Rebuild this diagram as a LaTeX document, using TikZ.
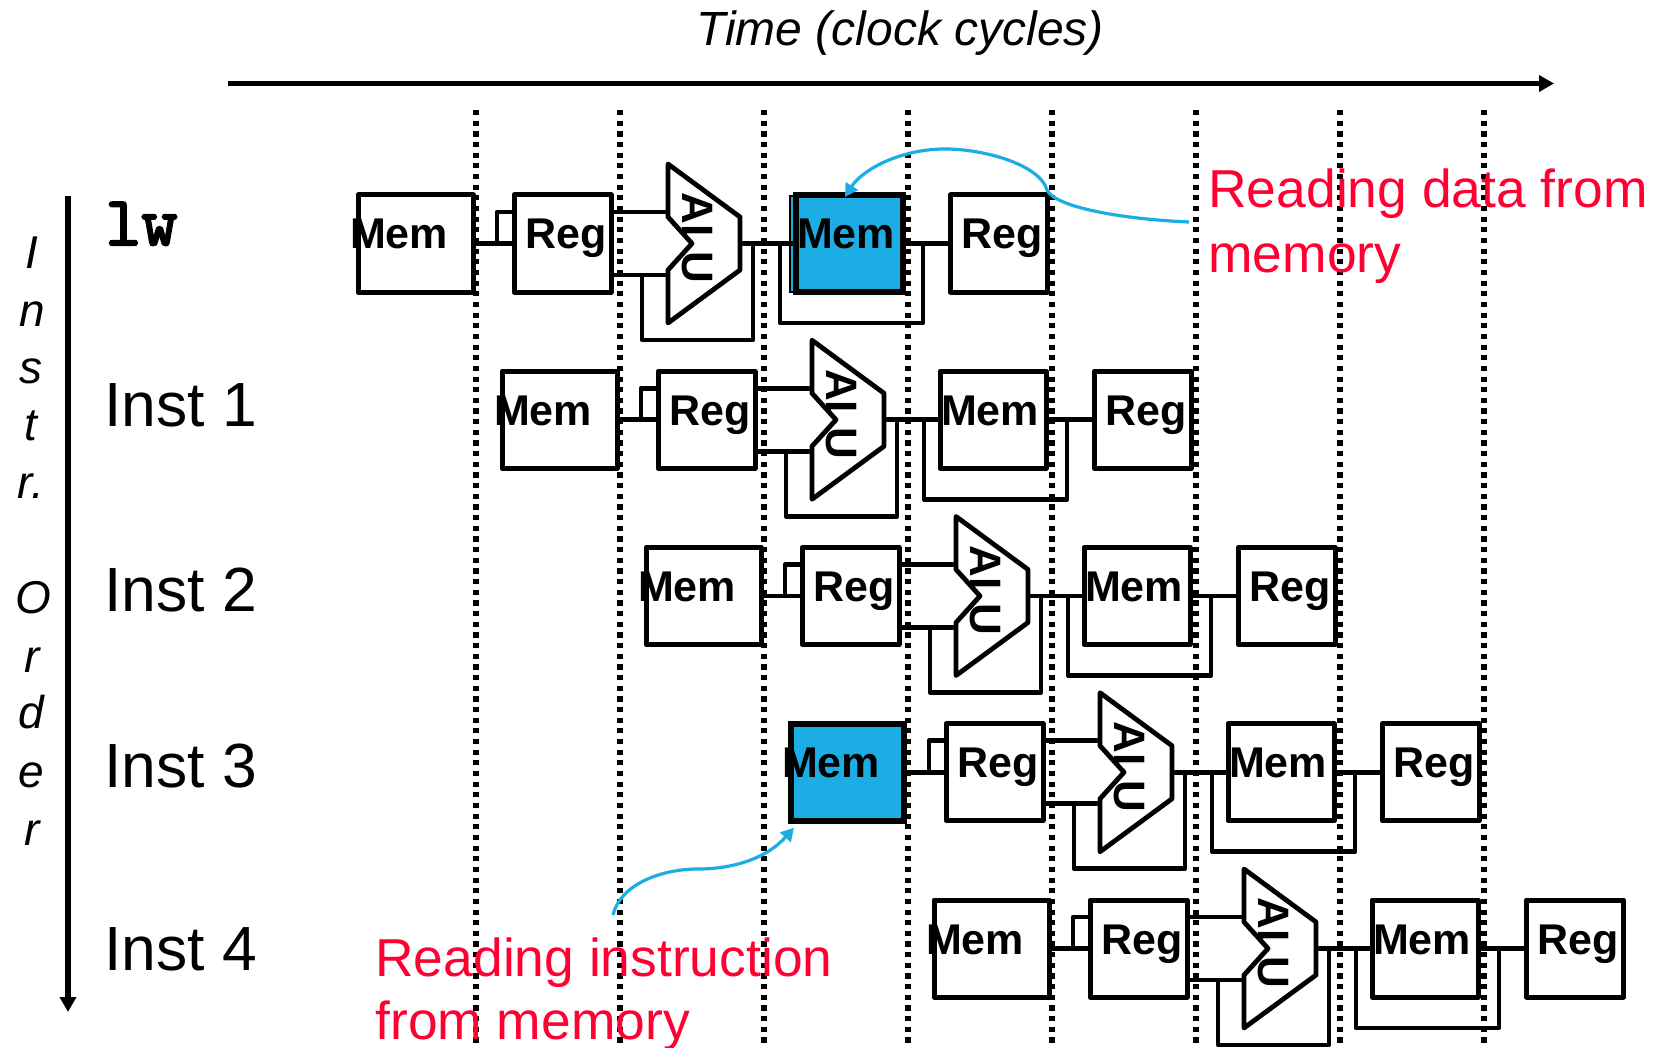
\documentclass[tikz,border=0pt]{standalone}
\usepackage{fontspec}
\setmainfont{Liberation Sans}
\newfontfamily\lwfont[FakeBold=3]{Latin Modern Mono}
\usetikzlibrary{arrows.meta,calc}
\definecolor{hlblue}{HTML}{1CADE4}
\definecolor{notered}{HTML}{FF0033}
\tikzset{
  stagebox/.style={draw=black,line width=2.5pt,inner sep=0pt,outer sep=0pt,line join=round,minimum height=48.5pt},
  membox/.style={stagebox,minimum width=57.5pt},
  regbox/.style={stagebox,minimum width=48.5pt},
  hlbox/.style={draw=black,line width=3pt,fill=hlblue,inner sep=0pt,outer sep=0pt,minimum height=48.5pt},
  wire/.style={draw=black,line width=2.4pt,line join=round},
  stagetext/.style={font=\fontsize{21.5}{24}\selectfont\bfseries,inner sep=0pt,anchor=base,text=black},
  alutext/.style={font=\fontsize{22}{24}\selectfont\bfseries,inner sep=0pt,rotate=-90,text=black},
  cycleline/.style={draw=black,line width=2.6pt,dash pattern=on 2.6pt off 2.73pt},
  axisarrow/.style={draw=black,line width=2.7pt,-{Triangle[length=7.5pt,width=8pt]}},
  notearrow/.style={draw=hlblue,line width=1.6pt,-{Triangle[length=6.5pt,width=7pt]}},
  instlabel/.style={font=\fontsize{31.2}{36}\selectfont,inner sep=0pt,anchor=base west},
  ordertext/.style={font=\fontsize{23}{26}\selectfont\itshape,inner sep=0pt,anchor=base},
  notetext/.style={font=\fontsize{26.7}{30}\selectfont,text=notered,inner sep=0pt,anchor=base west},
}
% one pipeline row, drawn in the coordinates of the lw row
\newcommand{\pipelinerow}[2]{%
\begin{scope}[shift={(#2*144,#2*176.25)},name prefix=#1-]
  \node[#1first] (ifm) at (415.5,243.5) {};
  \node[regbox] (reg) at (562.5,243.5) {};
  \node[#1second] (dm) at (849,243.5) {};
  \node[regbox] (wb) at (999,243.5) {};
  \coordinate (a1) at (668,164);
  \coordinate (a2) at (740,217);
  \coordinate (a3) at (740,270);
  \coordinate (a4) at (668,323);
  \coordinate (a5) at (668,270);
  \coordinate (a6) at (692,243.5);
  \coordinate (a7) at (668,217);
  \coordinate (in1) at (668,212);
  \coordinate (in2) at (668,275);
  \coordinate (out) at (740,243.5);
  \coordinate (tab) at (497,243.5);
  \coordinate (fbA) at (642,275);
  \coordinate (fbB) at (753,243.5);
  \coordinate (fbC) at (780,243.5);
  \coordinate (fbD) at (923,243.5);
  \draw[wire] (ifm.east) -- (reg.west);
  \draw[wire] (tab) |- ($(reg.west)+(0,-31.5)$);
  \draw[wire] (reg.east |- in1) -- (in1);
  \draw[wire] (reg.east |- in2) -- (in2);
  \draw[wire] (fbA) -- ++(0,65) -| (fbB);
  \draw[wire] (out) -- (dm.west);
  \draw[wire] (fbC) -- ++(0,79.5) -| (fbD);
  \draw[wire] (dm.east) -- (wb.west);
  \node[alutext] (alut) at (697,238) {ALU};
  \fill[white] (a7) -- (a6) -- (a5) -- cycle;
  \draw[wire] (a1) -- (a2) -- (a3) -- (a4) -- (a5) -- (a6) -- (a7) -- cycle;
  \node[stagetext] (ifmt) at (399,249) {Mem};
  \node[stagetext] (regt) at (566,249) {Reg};
  \node[stagetext] (dmt) at (846,249) {Mem};
  \node[stagetext] (wbt) at (1002,249) {Reg};
\end{scope}}
\tikzset{
  p0first/.style={membox}, p0second/.style={hlbox,minimum width=53.5pt},
  p1first/.style={membox}, p1second/.style={membox,minimum width=53pt},
  p2first/.style={membox}, p2second/.style={membox,minimum width=53pt},
  p3first/.style={hlbox,minimum width=56.5pt}, p3second/.style={membox,minimum width=53pt},
  p4first/.style={membox}, p4second/.style={membox,minimum width=53pt},
}
\begin{document}
\begin{tikzpicture}[x=0.5pt,y=-0.5pt]
  \useasboundingbox (0,0) rectangle (1658,1048);
  \clip (0,0) rectangle (1658,1048);
  % cycle boundaries
  \foreach \k in {0,...,7} {
    \coordinate (ct\k) at ({476+144*\k},110);
    \coordinate (cb\k) at ({476+144*\k},1048);
    \draw[cycleline] (ct\k) -- (cb\k);
  }
  % axes
  \coordinate (timeS) at (228,83.5);
  \coordinate (timeE) at (1554,83.5);
  \draw[axisarrow] (timeS) -- (timeE);
  \coordinate (orderS) at (68,196);
  \coordinate (orderE) at (68,1012);
  \draw[axisarrow] (orderS) -- (orderE);
  \node[font=\fontsize{24}{26}\selectfont\itshape,inner sep=0pt,anchor=base] (title) at (900,46) {Time (clock cycles)};
  % vertical label
  \node[ordertext] (o1) at (32,269) {I};
  \node[ordertext] (o2) at (32,326) {n};
  \node[ordertext] (o3) at (31,383) {s};
  \node[ordertext] (o4) at (31,440) {t};
  \node[ordertext] (o5) at (31,498) {r.};
  \node[ordertext] (o6) at (33,613) {O};
  \node[ordertext] (o7) at (32,672) {r};
  \node[ordertext] (o8) at (31,728) {d};
  \node[ordertext] (o9) at (31,787) {e};
  \node[ordertext] (o10) at (32,845) {r};
  % instruction labels
  \node[inner sep=0pt,anchor=base west,font=\fontsize{35}{38}\selectfont\lwfont] (lw) at (105,245) {lw};
  \node[instlabel] (i1) at (104,426) {Inst 1};
  \node[instlabel] (i2) at (104,611) {Inst 2};
  \node[instlabel] (i3) at (104,787) {Inst 3};
  \node[instlabel] (i4) at (104,970) {Inst 4};
  % highlight sliver behind the lw data memory
  \node[draw=black,line width=1pt,fill=hlblue,inner sep=0pt,minimum width=10pt,minimum height=47.5pt] (sliver) at (800,244) {};
  % pipeline rows
  \pipelinerow{p0}{0}
  \pipelinerow{p1}{1}
  \pipelinerow{p2}{2}
  \pipelinerow{p3}{3}
  \pipelinerow{p4}{4}
  % notes
  \node[notetext] (n1a) at (1208,207) {Reading data from};
  \node[notetext] (n1b) at (1208,272) {memory};
  \node[notetext] (n2a) at (375,976) {Reading instruction};
  \node[notetext] (n2b) at (375,1039) {from memory};
  % note arrows
  \coordinate (n1s) at (1189,222);
  \coordinate (n2s) at (613,915);
  \draw[notearrow] (n1s) .. controls (1120,219) and (1055,207) .. (1047,190)
     .. controls (1040,165) and (985,149) .. (945,149)
     .. controls (900,149) and (862,170) .. ($(p0-dm.north)+(-4,2)$);
  \draw[notearrow] (n2s) .. controls (620,885) and (660,869) .. (698,869)
     .. controls (730,869) and (765,860) .. ($(p3-ifm.south west)+(3,7)$);
\end{tikzpicture}
\end{document}
